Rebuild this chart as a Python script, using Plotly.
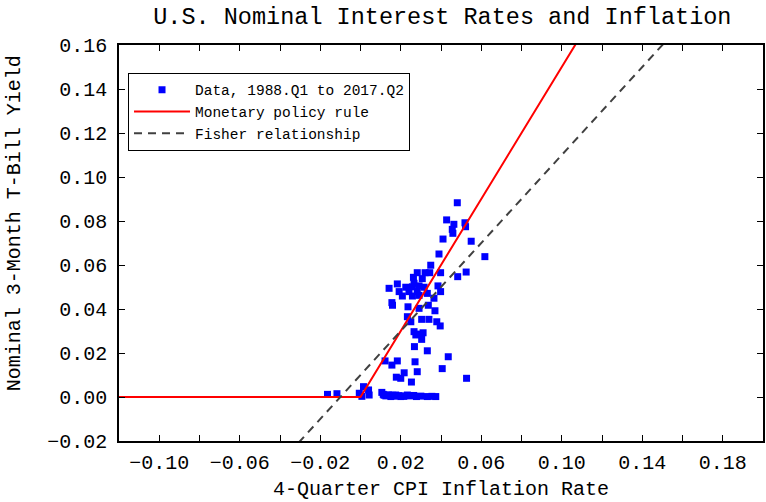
import plotly.graph_objects as go

# 4-quarter CPI inflation (x) and 3-month T-bill yield (y), 1988.Q1 to 2017.Q2
inflation = [
    0.0481, 0.0428, 0.0464, 0.0519, 0.0522, 0.0456, 0.0459, 0.0410, 0.0550, 0.0390,
    0.0618, 0.0349, 0.0525, 0.0483, 0.0282, 0.0321, 0.0344, 0.0398, 0.0263, 0.0307,
    0.0183, 0.0266, 0.0142, 0.0225, 0.0258, 0.0291, 0.0316, 0.0385, 0.0192, 0.0241,
    0.0282, 0.0332, 0.0398, 0.0208, 0.0258, 0.0291, 0.0365, 0.0156, 0.0159, 0.0236,
    0.0291, 0.0337, 0.0370, 0.0233, 0.0250, 0.0304, 0.0340, 0.0379, 0.0396, 0.0266,
    0.0291, 0.0311, 0.0275, 0.0304, 0.0268, 0.0332, 0.0436, 0.0122, 0.0183, 0.0156,
    0.0271, 0.0406, 0.0282, 0.0217, 0.0178, 0.0200, 0.0253, 0.0527, 0.0015, -0.0164,
    -0.0117, -0.0006, 0.0043, 0.0007, 0.0106, 0.0126, 0.0151, 0.0175, 0.0200, 0.0233,
    0.0278, 0.0332, 0.0374, 0.0040, 0.0117, 0.0140, 0.0165, 0.0190, 0.0215, 0.0245,
    0.0265, 0.0300, 0.0355, 0.0113, 0.0160, 0.0210,
]
tbill = [
    0.0883, 0.0805, 0.0785, 0.0792, 0.0774, 0.0762, 0.0744, 0.0718, 0.0708, 0.0650,
    0.0638, 0.0599, 0.0568, 0.0547, 0.0565, 0.0565, 0.0565, 0.0565, 0.0544, 0.0538,
    0.0514, 0.0517, 0.0494, 0.0499, 0.0501, 0.0505, 0.0499, 0.0505, 0.0479, 0.0479,
    0.0479, 0.0471, 0.0479, 0.0459, 0.0459, 0.0462, 0.0449, 0.0429, 0.0417, 0.0410,
    0.0403, 0.0417, 0.0392, 0.0365, 0.0342, 0.0353, 0.0353, 0.0342, 0.0323, 0.0297,
    0.0286, 0.0292, 0.0282, 0.0262, 0.0229, 0.0210, 0.0183, 0.0164, 0.0164, 0.0145,
    0.0160, 0.0129, 0.0115, 0.0110, 0.0090, 0.0085, 0.0068, 0.0085, 0.0047, 0.0012,
    0.0015, 0.0017, 0.0009, 0.0003, 0.0021, 0.0005, 0.0002, 0.0009, 0.0002, 0.0009,
    0.0002, 0.0002, 0.0002, 0.0032, 0.0008, 0.0010, 0.0004, 0.0006, 0.0003, 0.0005,
    0.0007, 0.0004, 0.0003, 0.0012, 0.0008, 0.0005,
]

# Monetary policy rule: zero lower bound, then i = 1.5 * pi
policy_x = [-0.12, 0.0, 0.20]
policy_y = [0.0, 0.0, 0.30]

# Fisher relationship: i = 0.01 + pi
fisher_x = [-0.12, 0.20]
fisher_y = [-0.11, 0.21]

# Ticks every 0.02 on x, labels on every other one
x_tickvals = [-0.12, -0.10, -0.08, -0.06, -0.04, -0.02, 0.00, 0.02, 0.04,
              0.06, 0.08, 0.10, 0.12, 0.14, 0.16, 0.18, 0.20]
x_ticktext = ["", "\u22120.10", "", "\u22120.06", "", "\u22120.02", "", "0.02", "",
              "0.06", "", "0.10", "", "0.14", "", "0.18", ""]
y_tickvals = [-0.02, 0.00, 0.02, 0.04, 0.06, 0.08, 0.10, 0.12, 0.14, 0.16]

FONT = "Liberation Mono"

fig = go.Figure()
fig.add_trace(go.Scatter(
    x=inflation, y=tbill, mode="markers", name="Data, 1988.Q1 to 2017.Q2",
    marker=dict(symbol="square", size=7, color="#0000ff", line=dict(width=0)),
))
fig.add_trace(go.Scatter(
    x=policy_x, y=policy_y, mode="lines", name="Monetary policy rule",
    line=dict(color="#ff0000", width=2),
))
fig.add_trace(go.Scatter(
    x=fisher_x, y=fisher_y, mode="lines", name="Fisher relationship",
    line=dict(color="#404040", width=2, dash="8px,6px"),
))

axis_common = dict(
    showline=True, linecolor="black", linewidth=1.5, mirror="allticks",
    ticks="inside", ticklen=6, tickwidth=1, tickcolor="black",
    showgrid=False, zeroline=False,
    tickfont=dict(family=FONT, size=20, color="black"),
)

fig.update_xaxes(
    range=[-0.12, 0.20], tickmode="array", tickvals=x_tickvals, ticktext=x_ticktext,
    ticklabelstandoff=2,
    **axis_common,
)
fig.update_yaxes(
    range=[-0.02, 0.16], tickmode="array", tickvals=y_tickvals, tickformat=".2f",
    ticklabelstandoff=6,
    **axis_common,
)

fig.update_layout(
    width=766, height=502,
    margin=dict(l=119, r=1, t=45, b=61),
    paper_bgcolor="white", plot_bgcolor="white",
    font=dict(family=FONT, color="black"),
    title=dict(
        text="U.S. Nominal Interest Rates and Inflation",
        x=0.5775, xanchor="center", y=0.968, yanchor="middle",
        font=dict(family=FONT, size=23.5, color="black"),
    ),
    showlegend=True,
    legend=dict(
        x=0.014, y=0.93, xanchor="left", yanchor="top",
        bgcolor="white", bordercolor="black", borderwidth=1,
        font=dict(family=FONT, size=14.5, color="black"),
        itemwidth=56, tracegroupgap=0,
    ),
    annotations=[
        dict(text="4-Quarter CPI Inflation Rate", xref="paper", yref="paper",
             x=0.5, y=-0.122, xanchor="center", yanchor="middle", showarrow=False,
             font=dict(family=FONT, size=20, color="black")),
        dict(text="Nominal 3-Month T-Bill Yield", xref="paper", yref="paper",
             x=-0.163, y=0.55, xanchor="center", yanchor="middle", showarrow=False,
             textangle=-90, font=dict(family=FONT, size=20, color="black")),
    ],
)

fig.write_html("out.html")
